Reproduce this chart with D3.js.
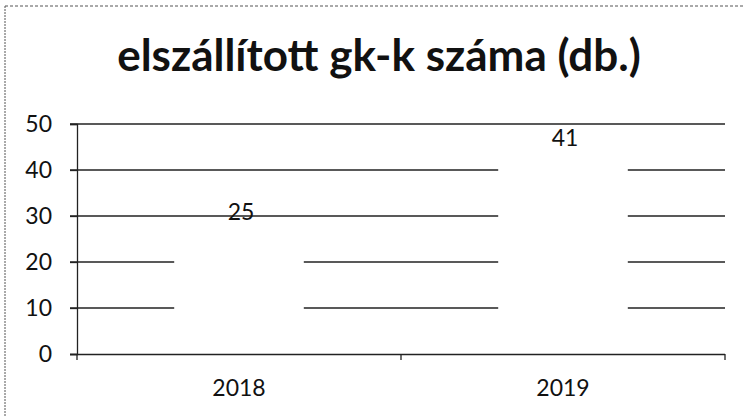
<!DOCTYPE html>
<html><head><meta charset="utf-8">
<script src="https://cdn.jsdelivr.net/npm/d3@7/dist/d3.min.js"></script>
<style>body{margin:0;background:#fff}svg{display:block}</style>
</head><body>
<svg id="c" width="744" height="416"></svg>
<script>
const title = "elszállított gk-k száma (db.)";
const categories = ["2018", "2019"];
const values = [25, 41];
const yTicks = [0, 10, 20, 30, 40, 50];

const FONT = "Lato, 'Open Sans', sans-serif";
const svg = d3.select("#c");
const W = 744, H = 416;
const mLeft = 77, mRight = 725, mTop = 124, mBottom = 354;

// scanned frame
svg.append("line").attr("x1",5).attr("x2",5).attr("y1",6).attr("y2",H)
  .attr("stroke","#555").attr("stroke-width",1).attr("stroke-dasharray","2,1");
svg.append("line").attr("x1",5).attr("x2",W).attr("y1",6).attr("y2",6)
  .attr("stroke","#555").attr("stroke-width",1).attr("stroke-dasharray","3,2");

svg.append("text").attr("x",379).attr("y",71).attr("text-anchor","middle")
  .attr("font-family",FONT).attr("font-weight","bold")
  .attr("font-size",44).attr("fill","#111").text(title);

const x = d3.scaleBand().domain(categories).range([mLeft, mRight]).padding(0);
const y = d3.scaleLinear().domain([0, 50]).range([mBottom, mTop]);

// gridlines
svg.append("g").selectAll("line").data(yTicks.filter(d=>d>0)).join("line")
  .attr("x1", mLeft - 7).attr("x2", mRight)
  .attr("y1", d=>y(d)).attr("y2", d=>y(d))
  .attr("stroke","#222").attr("stroke-width",1.3);

// y axis
const yAxis = svg.append("g").attr("transform",`translate(${mLeft},0)`)
  .call(d3.axisLeft(y).tickValues(yTicks).tickSize(7).tickPadding(18));
yAxis.attr("font-family",FONT).attr("font-size",23);
yAxis.select(".domain").attr("stroke","#222").attr("stroke-width",1.3);
yAxis.selectAll(".tick line").attr("stroke","#222").attr("stroke-width",1.3);
yAxis.selectAll("text").attr("fill","#111");

// bars (white fill, hiding gridlines)
const bw = x.bandwidth() * 0.4;
svg.append("g").selectAll("rect").data(values).join("rect")
  .attr("x",(d,i)=>x(categories[i]) + (x.bandwidth()-bw)/2)
  .attr("y",d=>y(d)).attr("width",bw).attr("height",d=>mBottom - y(d))
  .attr("fill","#fff");

// x axis
const xAxis = svg.append("g").attr("transform",`translate(0,${mBottom})`)
  .call(d3.axisBottom(x).tickSize(0).tickPadding(26));
xAxis.attr("font-family",FONT).attr("font-size",23);
xAxis.select(".domain").attr("stroke","#222").attr("stroke-width",1.3)
  .attr("d",`M${mLeft-7},0.5H${mRight}`);
xAxis.selectAll("text").attr("fill","#111");
// category boundary ticks
const bounds = [mLeft, mLeft + x.step(), mRight];
svg.append("g").selectAll("line").data(bounds).join("line")
  .attr("x1",d=>d).attr("x2",d=>d).attr("y1",mBottom).attr("y2",mBottom+6)
  .attr("stroke","#222").attr("stroke-width",1.3);

// value labels
svg.append("g").selectAll("text").data(values).join("text")
  .attr("x",(d,i)=>x(categories[i]) + x.bandwidth()/2 + 2)
  .attr("y",d=>y(d) - 19).attr("text-anchor","middle")
  .attr("font-family",FONT).attr("font-size",23)
  .attr("fill","#111").text(d=>d);
</script>
</body></html>
